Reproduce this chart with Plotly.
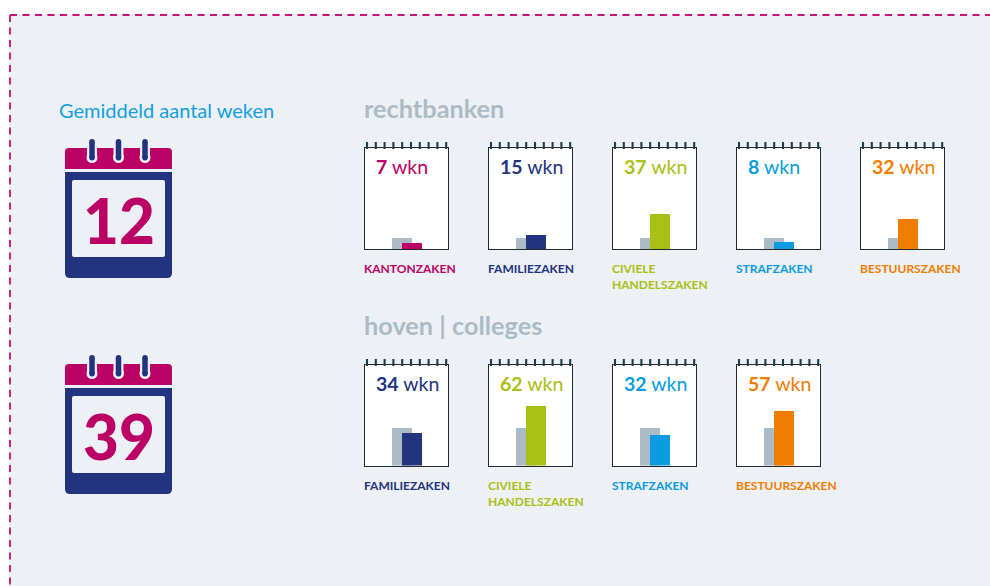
import plotly.graph_objects as go

W, H = 990, 586
# ---- data
court_labels = ["KANTONZAKEN", "FAMILIEZAKEN", "CIVIELE<br>HANDELSZAKEN", "STRAFZAKEN", "BESTUURSZAKEN"]
court_values = [7, 15, 37, 8, 32]
court_avg = 12
appeal_labels = ["FAMILIEZAKEN", "CIVIELE<br>HANDELSZAKEN", "STRAFZAKEN", "BESTUURSZAKEN"]
appeal_values = [34, 62, 32, 57]
appeal_avg = 39
MAGENTA, NAVY, LIME, BLUE, ORANGE = "#bb0066", "#22337f", "#a9c014", "#0a9be0", "#f07d00"
court_colors = [MAGENTA, NAVY, LIME, BLUE, ORANGE]
appeal_colors = [NAVY, LIME, BLUE, ORANGE]
GREY = "#acbcc6"
BG = "#edf0f4"
FONT = "Lato"

fig = go.Figure()
shapes, ann = [], []
px = lambda x: x / W
py = lambda y: 1 - y / H


def rect(x0, y0, x1, y1, color, radius=0, **kw):
    base = dict(xref="paper", yref="paper", line=dict(width=0), fillcolor=color, layer="below")
    base.update(kw)
    shapes.append(dict(type="rect", x0=px(x0), x1=px(x1), y0=py(y0), y1=py(y1), **base))


def line(x0, y0, x1, y1, color, width, dash="solid", layer="above"):
    shapes.append(dict(type="line", xref="paper", yref="paper", x0=px(x0), x1=px(x1), y0=py(y0), y1=py(y1),
                       line=dict(color=color, width=width, dash=dash), layer=layer))


def text(x, y, s, size, color, anchor="left", yanchor="middle", weight=None):
    font = dict(family=FONT, size=size, color=color)
    if weight:
        font["weight"] = weight
    ann.append(dict(xref="paper", yref="paper", x=px(x), y=py(y), text=s, showarrow=False, xanchor=anchor,
                    yanchor=yanchor, align="left", font=font, borderpad=0, borderwidth=0))


# page frame
rect(0, 0, W, 14, "white")
rect(0, 0, 9, H, "white")
line(10, 15, W, 15, "#c8107a", 1.8, "7px,5.5px")
line(10, 15, 10, H, "#c8107a", 1.8, "7px,5.5px")

text(59, 109.5, "Gemiddeld aantal weken", 20, "#12a0e3")
text(364, 107.5, "<b>rechtbanken</b>", 25.3, GREY)
text(364, 324.5, "<b>hoven | colleges</b>", 25.3, GREY)


def rrect_path(x0, y0, x1, y1, r, top=True, bottom=True):
    a, b, c, d = px(x0), px(x1), py(y0), py(y1)
    rx, ry = r / W, r / H
    p = f"M{a},{d + (ry if bottom else 0)}"
    p += f" L{a},{c - (ry if top else 0)}"
    if top:
        p += f" Q{a},{c} {a + rx},{c} L{b - rx},{c} Q{b},{c} {b},{c - ry}"
    else:
        p += f" L{b},{c}"
    p += f" L{b},{d + (ry if bottom else 0)}"
    if bottom:
        p += f" Q{b},{d} {b - rx},{d} L{a + rx},{d} Q{a},{d} {a},{d + ry}"
    return p + " Z"


def big_calendar(dy, number):
    for (x0, y0, x1, y1, col, r, t, b) in [
        (65, 148, 172, 169, MAGENTA, 4, True, False),
        (65, 172, 172, 278, NAVY, 5, False, True),
        (72, 180, 165, 257, BG, 2, True, True),
    ]:
        shapes.append(dict(type="path", xref="paper", yref="paper", layer="below", line=dict(width=0), fillcolor=col,
                           path=rrect_path(x0, y0 + dy, x1, y1 + dy, r, t, b)))
    for cx in (92, 118.5, 145):
        line(cx, 148 + dy, cx, 157.5 + dy, BG, 10, layer="below")
        shapes.append(dict(type="circle", xref="paper", yref="paper", layer="below", fillcolor=BG, line=dict(width=0),
                           x0=px(cx - 5.5), x1=px(cx + 5.5), y0=py(152 + dy), y1=py(163 + dy)))
        line(cx, 142 + dy, cx, 158 + dy, NAVY, 5.5, layer="below")
        shapes.append(dict(type="circle", xref="paper", yref="paper", layer="below", fillcolor=NAVY, line=dict(width=0),
                           x0=px(cx - 2.75), x1=px(cx + 2.75), y0=py(155 + dy), y1=py(160.5 + dy)))
        shapes.append(dict(type="circle", xref="paper", yref="paper", layer="below", fillcolor=NAVY, line=dict(width=0),
                           x0=px(cx - 2.75), x1=px(cx + 2.75), y0=py(139 + dy), y1=py(144.5 + dy)))
    text(118.5, 220 + dy, str(number), 62, MAGENTA, anchor="center", weight=900)


big_calendar(0, court_avg)
big_calendar(216, appeal_avg)

axis_n = [0]


def panel(left, top, bottom, avg, value, color, label, label_y):
    axis_n[0] += 1
    n = axis_n[0]
    sx = "" if n == 1 else str(n)
    xa, ya = "xaxis" + sx, "yaxis" + sx
    common = dict(showline=True, mirror=True, linecolor="#26292b", linewidth=1.3, showgrid=False, zeroline=False,
                  showticklabels=False, ticks="", fixedrange=True)
    fig.update_layout({
        xa: dict(domain=[px(left + 0.7), px(left + 84.3)], range=[0.7, 84.3], anchor="y" + sx, **common),
        ya: dict(domain=[py(bottom - 0.4), py(top + 0.7)], range=[0, (bottom - top - 1.1) / 0.96], anchor="x" + sx,
                 **common),
    })
    fig.add_bar(x=[38], y=[avg], width=[20], marker=dict(color=GREY, line=dict(width=0)), xaxis="x" + sx, yaxis="y" + sx,
                showlegend=False)
    fig.add_bar(x=[48], y=[value], width=[20], marker=dict(color=color, line=dict(width=0)), xaxis="x" + sx,
                yaxis="y" + sx, showlegend=False)
    for i in range(10):
        x = left + 3 + i * 8.8
        line(x, top - 5, x, top + 2, "#1f3c4a", 2.1)
    # value label
    text(left + 11.7, top + 19.7, f"<b>{value}</b> wkn", 19.5, color)
    # category label
    text(left, label_y, f"<b>{label}</b>", 12, color, yanchor="top")


slots = [364, 488, 612, 736, 860]
for s, v, c, l in zip(slots, court_values, court_colors, court_labels):
    panel(s, 147, 249.6, court_avg, v, c, l, 260.5)
for s, v, c, l in zip(slots, appeal_values, appeal_colors, appeal_labels):
    panel(s, 364, 466, appeal_avg, v, c, l, 477.5)

fig.update_layout(width=W, height=H, margin=dict(l=0, r=0, t=0, b=0, pad=0), paper_bgcolor=BG, plot_bgcolor="white",
                  barmode="overlay", bargap=0, shapes=shapes, annotations=ann, showlegend=False,
                  font=dict(family=FONT), hovermode=False)
fig.write_html("out.html", config={"displayModeBar": False},
               post_script="document.body.style.margin='0';document.documentElement.style.overflow='hidden';")
